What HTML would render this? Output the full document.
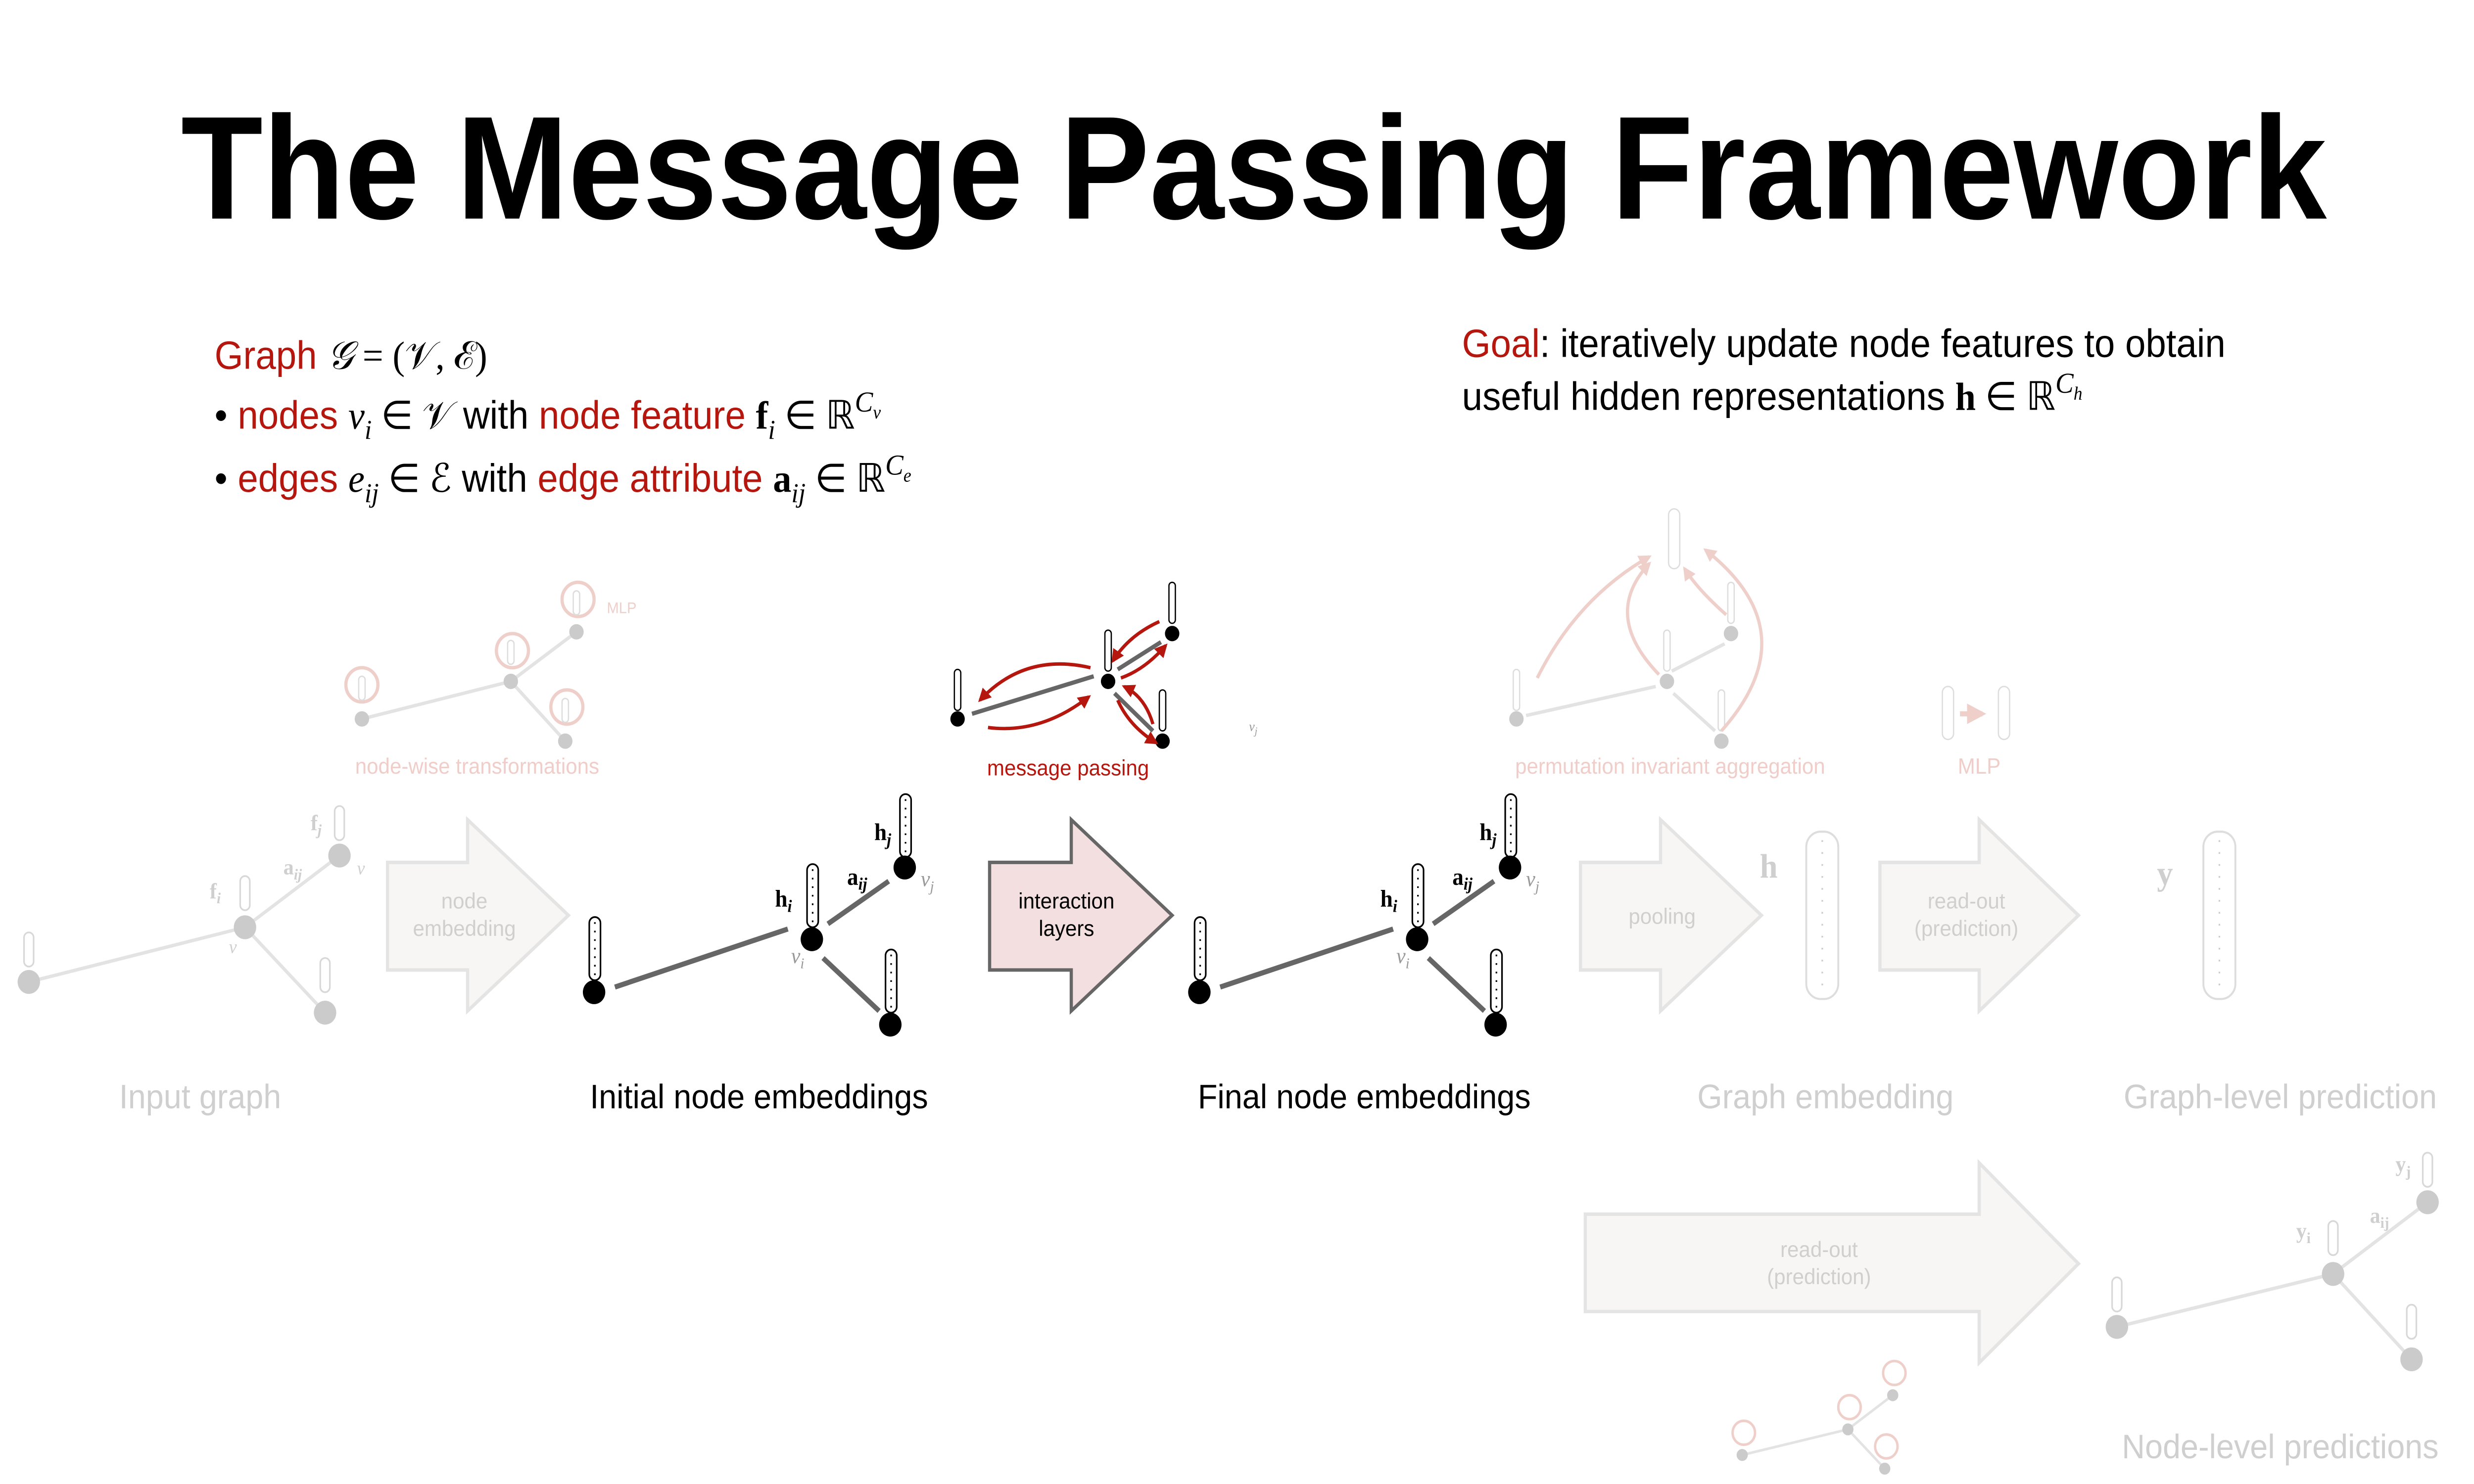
<!DOCTYPE html>
<html><head><meta charset="utf-8"><style>
html,body{margin:0;padding:0;background:#fff;width:100vw;height:100vh;overflow:hidden;}
#wrap{position:fixed;left:0;top:0;width:100vw;height:100vh;overflow:hidden;}
#wrap svg{position:absolute;left:0;top:0;width:100vw;height:100vh;display:block;}
</style></head><body>
<div id="wrap">
<svg viewBox="0 0 1545 869" preserveAspectRatio="none" xmlns="http://www.w3.org/2000/svg" font-family="Liberation Sans, sans-serif">
<defs>
<marker id="ar" viewBox="0 0 10 10" refX="8" refY="5" markerWidth="4" markerHeight="4" orient="auto"><path d="M0,0L10,5L0,10z" fill="#b5170e"/></marker>
<marker id="ap" viewBox="0 0 10 10" refX="8" refY="5" markerWidth="4" markerHeight="4" orient="auto"><path d="M0,0L10,5L0,10z" fill="#efcfca"/></marker>
</defs>
<rect width="1545" height="869" fill="#fff"/>
<text x="783" y="128" font-size="86" font-weight="bold" text-anchor="middle" textLength="1340" lengthAdjust="spacingAndGlyphs">The Message Passing Framework</text>

<g font-size="23">
<text x="134" y="216"><tspan fill="#b5170e">Graph</tspan> <tspan font-family="Liberation Serif, serif" font-style="italic">𝒢</tspan><tspan font-family="Liberation Serif, serif"> = (𝒱, ℰ)</tspan></text>
<text x="134" y="251">•  <tspan fill="#b5170e">nodes</tspan> <tspan font-family="Liberation Serif, serif" font-style="italic">v<tspan font-size="16" dy="6">i</tspan></tspan><tspan dy="-6" font-family="Liberation Serif, serif"> ∈ 𝒱</tspan> with <tspan fill="#b5170e">node feature</tspan> <tspan font-family="Liberation Serif, serif" font-weight="bold">f</tspan><tspan font-family="Liberation Serif, serif" font-style="italic" font-size="16" dy="6">i</tspan><tspan dy="-6" font-family="Liberation Serif, serif"> ∈ ℝ</tspan><tspan font-family="Liberation Serif, serif" font-style="italic" font-size="17" dy="-10">C<tspan font-size="11" dy="4">v</tspan></tspan></text>
<text x="134" y="288">•  <tspan fill="#b5170e">edges</tspan> <tspan font-family="Liberation Serif, serif" font-style="italic">e<tspan font-size="16" dy="6">ij</tspan></tspan><tspan dy="-6" font-family="Liberation Serif, serif"> ∈ ℰ</tspan> with <tspan fill="#b5170e">edge attribute</tspan> <tspan font-family="Liberation Serif, serif" font-weight="bold">a</tspan><tspan font-family="Liberation Serif, serif" font-style="italic" font-size="16" dy="6">ij</tspan><tspan dy="-6" font-family="Liberation Serif, serif"> ∈ ℝ</tspan><tspan font-family="Liberation Serif, serif" font-style="italic" font-size="17" dy="-10">C<tspan font-size="11" dy="4">e</tspan></tspan></text>
<text x="913" y="209"><tspan fill="#b5170e">Goal</tspan>: iteratively update node features to obtain</text>
<text x="913" y="240">useful hidden representations <tspan font-family="Liberation Serif, serif" font-weight="bold">h</tspan><tspan font-family="Liberation Serif, serif"> ∈ ℝ</tspan><tspan font-family="Liberation Serif, serif" font-style="italic" font-size="17" dy="-10">C<tspan font-size="11" dy="4">h</tspan></tspan></text>
</g>

<g stroke-width="2">
<path d="M242,505H292V480L355,536L292,592V568H242Z" fill="#f8f6f4" stroke="#e4e4e4"/>
<path d="M618,505H669V480L732,536L669,592V568H618Z" fill="#f3dfdf" stroke="#666"/>
<path d="M987,505H1037V480L1100,536L1037,592V568H987Z" fill="#f8f6f4" stroke="#e4e4e4"/>
<path d="M1174,505H1236V480L1298,536L1236,592V568H1174Z" fill="#f8f6f4" stroke="#e4e4e4"/>
<path d="M990,711H1236V681L1298,740L1236,798V768H990Z" fill="#f8f6f4" stroke="#e4e4e4"/>
</g>
<g font-size="13" text-anchor="middle" fill="#cfcfcf">
<text x="290" y="532">node</text><text x="290" y="548">embedding</text>
<text x="1038" y="541">pooling</text>
<text x="1228" y="532">read-out</text><text x="1228" y="548">(prediction)</text>
<text x="1136" y="736">read-out</text><text x="1136" y="752">(prediction)</text>
</g>
<text x="666" y="532" font-size="13" text-anchor="middle">interaction</text>
<text x="666" y="548" font-size="13" text-anchor="middle">layers</text>

<g stroke="#e3e3e3" stroke-width="2"><line x1="18" y1="575" x2="153" y2="543"/><line x1="153" y1="543" x2="212" y2="501"/><line x1="153" y1="543" x2="203" y2="593"/></g>
<g fill="#cbcbcb"><circle cx="18" cy="575" r="7"/><circle cx="153" cy="543" r="7"/><circle cx="212" cy="501" r="7"/><circle cx="203" cy="593" r="7"/></g>
<g fill="none" stroke="#d8d8d8" stroke-width="1"><rect x="15" y="546" width="6" height="20" rx="3"/><rect x="150" y="513" width="6" height="20" rx="3"/><rect x="209" y="472" width="6" height="20" rx="3"/><rect x="200" y="561" width="6" height="20" rx="3"/></g>
<g font-family="Liberation Serif, serif" fill="#cfcfcf" font-size="13"><text x="131" y="526" font-weight="bold">f<tspan font-size="9" font-style="italic" dy="3">i</tspan></text><text x="194" y="486" font-weight="bold">f<tspan font-size="9" font-style="italic" dy="3">j</tspan></text><text x="177" y="512" font-weight="bold">a<tspan font-size="9" font-style="italic" dy="3">ij</tspan></text><text x="143" y="558" font-style="italic" font-size="11">v</text><text x="223" y="512" font-style="italic" font-size="11">v</text></g>

<g id="g1">
<g stroke="#666" stroke-width="3"><line x1="384" y1="578" x2="492" y2="544"/><line x1="517" y1="541" x2="555" y2="516"/><line x1="514" y1="561" x2="549" y2="592"/></g>
<g fill="#000"><circle cx="371" cy="581" r="7"/><circle cx="507" cy="550" r="7"/><circle cx="565" cy="508" r="7"/><circle cx="556" cy="600" r="7"/></g>
<g fill="none" stroke="#000" stroke-width="1"><rect x="368" y="537" width="7" height="37" rx="3.5"/><rect x="504" y="506" width="7" height="37" rx="3.5"/><rect x="562" y="465" width="7" height="37" rx="3.5"/><rect x="553" y="556" width="7" height="37" rx="3.5"/></g>
<g stroke="#000" stroke-width="1" stroke-dasharray="1 4"><line x1="371.5" y1="540" x2="371.5" y2="572"/><line x1="507.5" y1="509" x2="507.5" y2="541"/><line x1="565.5" y1="468" x2="565.5" y2="500"/><line x1="556.5" y1="559" x2="556.5" y2="591"/></g>
<g font-family="Liberation Serif, serif" font-size="14"><text x="484" y="531" font-weight="bold">h<tspan font-size="10" font-style="italic" dy="3">i</tspan></text><text x="546" y="492" font-weight="bold">h<tspan font-size="10" font-style="italic" dy="3">j</tspan></text><text x="529" y="518" font-weight="bold">a<tspan font-size="10" font-style="italic" dy="3">ij</tspan></text></g>
<g font-family="Liberation Serif, serif" font-size="13" font-style="italic" fill="#999"><text x="494" y="564">v<tspan font-size="9" dy="3">i</tspan></text><text x="575" y="519">v<tspan font-size="9" dy="3">j</tspan></text></g>
</g>
<use href="#g1" x="378" y="0"/>

<g stroke="#666" stroke-width="2.5"><line x1="607" y1="418" x2="683" y2="396"/><line x1="698" y1="392" x2="725" y2="376"/><line x1="696" y1="406" x2="720" y2="428"/></g>
<g fill="#000"><circle cx="598" cy="421" r="4.5"/><circle cx="692" cy="399" r="4.5"/><circle cx="732" cy="371" r="4.5"/><circle cx="726" cy="434" r="4.5"/></g>
<g fill="none" stroke="#000" stroke-width="0.8"><rect x="596" y="392" width="4" height="24" rx="2"/><rect x="690" y="369" width="4" height="24" rx="2"/><rect x="730" y="341" width="4" height="24" rx="2"/><rect x="724" y="404" width="4" height="24" rx="2"/></g>
<g fill="none" stroke="#b5170e" stroke-width="2" marker-end="url(#ar)">
<path d="M681,391Q640,382 612,410"/><path d="M617,426Q650,430 680,408"/>
<path d="M724,364Q705,372 695,387"/><path d="M700,397Q715,392 728,378"/>
<path d="M720,424Q715,408 702,402"/><path d="M698,410Q705,425 722,435"/>
</g>
<text x="780" y="428" font-family="Liberation Serif, serif" font-size="8" font-style="italic" fill="#999">v<tspan font-size="6" dy="2">j</tspan></text>
<text x="667" y="454" font-size="13" text-anchor="middle" fill="#b5170e">message passing</text>

<g stroke="#e3e3e3" stroke-width="2"><line x1="226" y1="421" x2="319" y2="399"/><line x1="319" y1="399" x2="360" y2="370"/><line x1="319" y1="399" x2="353" y2="434"/></g>
<g fill="#cbcbcb"><circle cx="226" cy="421" r="4.5"/><circle cx="319" cy="399" r="4.5"/><circle cx="360" cy="370" r="4.5"/><circle cx="353" cy="434" r="4.5"/></g>
<g fill="none" stroke="#efcfca" stroke-width="2"><circle cx="226" cy="401" r="10"/><circle cx="320" cy="381" r="10"/><circle cx="361" cy="351" r="10"/><circle cx="354" cy="414" r="10"/></g>
<g fill="none" stroke="#ddd" stroke-width="0.8"><rect x="224" y="396" width="4" height="14" rx="2"/><rect x="317" y="375" width="4" height="14" rx="2"/><rect x="358" y="346" width="4" height="14" rx="2"/><rect x="351" y="409" width="4" height="14" rx="2"/></g>
<text x="379" y="359" font-size="9" fill="#efcfca">MLP</text>
<text x="298" y="453" font-size="13" text-anchor="middle" fill="#f0cdc8">node-wise transformations</text>

<g stroke="#e3e3e3" stroke-width="2"><line x1="953" y1="419" x2="1034" y2="402"/><line x1="1044" y1="393" x2="1077" y2="377"/><line x1="1045" y1="406" x2="1071" y2="428"/></g>
<g fill="#cbcbcb"><circle cx="947" cy="421" r="4.5"/><circle cx="1041" cy="399" r="4.5"/><circle cx="1081" cy="371" r="4.5"/><circle cx="1075" cy="434" r="4.5"/></g>
<g fill="none" stroke="#ddd" stroke-width="0.8"><rect x="945" y="392" width="4" height="24" rx="2"/><rect x="1039" y="369" width="4" height="24" rx="2"/><rect x="1079" y="341" width="4" height="24" rx="2"/><rect x="1073" y="404" width="4" height="24" rx="2"/><rect x="1042" y="298" width="7" height="35" rx="3.5"/></g>
<g fill="none" stroke="#efcfca" stroke-width="2" marker-end="url(#ap)">
<path d="M960,397Q985,350 1030,326"/><path d="M1036,395Q1000,360 1030,330"/><path d="M1078,360Q1060,345 1052,333"/><path d="M1075,428Q1130,370 1065,322"/>
</g>
<text x="1043" y="453" font-size="13" text-anchor="middle" fill="#f0cdc8">permutation invariant aggregation</text>
<g fill="none" stroke="#ddd" stroke-width="0.8"><rect x="1213" y="402" width="7" height="31" rx="3.5"/><rect x="1248" y="402" width="7" height="31" rx="3.5"/></g>
<path d="M1224,418H1238" stroke="#efcfca" stroke-width="3" marker-end="url(#ap)"/>
<text x="1236" y="453" font-size="13" text-anchor="middle" fill="#f0cdc8">MLP</text>

<g font-family="Liberation Serif, serif" font-size="20" font-weight="bold" fill="#cfcfcf"><text x="1099" y="514">h</text><text x="1347" y="518">y</text></g>
<g fill="none" stroke="#ddd" stroke-width="1.2"><rect x="1128" y="487" width="20" height="98" rx="9"/><rect x="1376" y="487" width="20" height="98" rx="9"/></g>
<g stroke="#ccc" stroke-dasharray="1 6"><line x1="1138" y1="492" x2="1138" y2="580"/><line x1="1386" y1="492" x2="1386" y2="580"/></g>

<g font-size="20" text-anchor="middle">
<text x="125" y="649" fill="#cfcfcf">Input graph</text>
<text x="474" y="649">Initial node embeddings</text>
<text x="852" y="649">Final node embeddings</text>
<text x="1140" y="649" fill="#cfcfcf">Graph embedding</text>
<text x="1424" y="649" fill="#cfcfcf">Graph-level prediction</text>
<text x="1424" y="854" fill="#cfcfcf">Node-level predictions</text>
</g>

<g stroke="#e3e3e3" stroke-width="2"><line x1="1322" y1="777" x2="1457" y2="746"/><line x1="1457" y1="746" x2="1516" y2="704"/><line x1="1457" y1="746" x2="1506" y2="796"/></g>
<g fill="#cbcbcb"><circle cx="1322" cy="777" r="7"/><circle cx="1457" cy="746" r="7"/><circle cx="1516" cy="704" r="7"/><circle cx="1506" cy="796" r="7"/></g>
<g fill="none" stroke="#d8d8d8" stroke-width="1"><rect x="1319" y="748" width="6" height="20" rx="3"/><rect x="1454" y="715" width="6" height="20" rx="3"/><rect x="1513" y="675" width="6" height="20" rx="3"/><rect x="1503" y="764" width="6" height="20" rx="3"/></g>
<g font-family="Liberation Serif, serif" fill="#cfcfcf" font-size="13" font-weight="bold"><text x="1434" y="725">y<tspan font-size="9" dy="3">i</tspan></text><text x="1496" y="686">y<tspan font-size="9" dy="3">j</tspan></text><text x="1480" y="716">a<tspan font-size="9" dy="3">ij</tspan></text></g>

<g stroke="#e3e3e3" stroke-width="1.5"><line x1="1088" y1="852" x2="1154" y2="837"/><line x1="1154" y1="837" x2="1182" y2="817"/><line x1="1154" y1="837" x2="1177" y2="860"/></g>
<g fill="#cbcbcb"><circle cx="1088" cy="852" r="3.5"/><circle cx="1154" cy="837" r="3.5"/><circle cx="1182" cy="817" r="3.5"/><circle cx="1177" cy="860" r="3.5"/></g>
<g fill="none" stroke="#efcfca" stroke-width="1.5"><circle cx="1089" cy="839" r="7"/><circle cx="1155" cy="824" r="7"/><circle cx="1183" cy="804" r="7"/><circle cx="1178" cy="847" r="7"/></g>
</svg>
</div>
</body></html>
